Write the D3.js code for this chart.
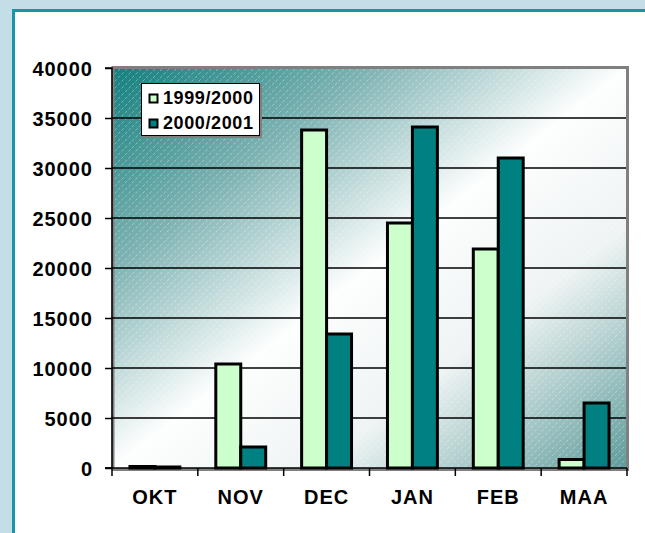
<!DOCTYPE html>
<html><head><meta charset="utf-8">
<script src="https://cdn.jsdelivr.net/npm/d3@7"></script>
<style>body{margin:0;background:#c3dee6;}svg{display:block;}</style>
</head><body>
<svg id="c" width="645" height="533"></svg>
<script>
const categories = ["OKT","NOV","DEC","JAN","FEB","MAA"];
const seriesNames = ["1999/2000","2000/2001"];
const s1999 = [150, 10400, 33800, 24500, 21900, 850];
const s2000 = [100, 2100, 13400, 34100, 31000, 6500];
const yTicks = [0,5000,10000,15000,20000,25000,30000,35000,40000];
const colors = ["#ccffcc","#008080"];

const svg = d3.select("#c");
const W=645,H=533;
const FONT="Liberation Sans, Arial, sans-serif";
svg.append("rect").attr("width",W).attr("height",H).attr("fill","#c3dee6");
svg.append("rect").attr("x",13.5).attr("y",10.5).attr("width",W).attr("height",H)
  .attr("fill","#ffffff").attr("stroke","#1696a8").attr("stroke-width",3);

const L=112,R=627,T=68,B=468;
const x = d3.scaleBand().domain(categories).range([L,R]);
const y = d3.scaleLinear().domain([0,40000]).range([B,T]);
const xs = d3.scaleBand().domain(seriesNames).range([0,x.bandwidth()]).paddingInner(0).paddingOuter(0.72);

const defs = svg.append("defs");
const g = defs.append("linearGradient").attr("id","bg").attr("x1","0").attr("y1","0").attr("x2","1").attr("y2","1");
g.append("stop").attr("offset","0").attr("stop-color","#12807e");
g.append("stop").attr("offset","0.25").attr("stop-color","#7fb3b3");
g.append("stop").attr("offset","0.5").attr("stop-color","#fdfefe");
g.append("stop").attr("offset","0.7").attr("stop-color","#eef3f3");
g.append("stop").attr("offset","1").attr("stop-color","#5e9c9b");
const p = defs.append("pattern").attr("id","hatch").attr("patternUnits","userSpaceOnUse")
  .attr("width",7).attr("height",7);
p.append("path").attr("d","M-1,8 L8,-1").attr("stroke","#ffffff").attr("stroke-opacity",0.35)
  .attr("stroke-width",1).attr("stroke-dasharray","3,2");

svg.append("rect").attr("x",L).attr("y",T).attr("width",R-L).attr("height",B-T).attr("fill","url(#bg)");
svg.append("rect").attr("x",L).attr("y",T).attr("width",R-L).attr("height",B-T).attr("fill","url(#hatch)");
svg.append("path").attr("d",`M${L+1},${B+1.5} L${L+1},${T-0.5} L${R+0.5},${T-0.5} L${R+0.5},${B+1.5} L${L},${B+1.5}`)
  .attr("fill","none").attr("stroke","#808080").attr("stroke-width",3);

svg.append("g").selectAll("line").data(yTicks.filter(d=>d>0&&d<40000)).join("line")
  .attr("x1",L).attr("x2",R-1).attr("y1",d=>y(d)).attr("y2",d=>y(d))
  .attr("stroke","#000").attr("stroke-width",1.5);

const data = categories.map((c,i)=>({c, v:[s1999[i], s2000[i]]}));
const gg = svg.append("g").selectAll("g").data(data).join("g").attr("transform",d=>`translate(${x(d.c)},0)`);
gg.selectAll("rect").data(d=>d.v.map((v,j)=>({v,j}))).join("rect")
  .attr("x",d=>xs(seriesNames[d.j])).attr("width",xs.bandwidth())
  .attr("y",d=>y(d.v)).attr("height",d=>B-y(d.v))
  .attr("fill",d=>colors[d.j]).attr("stroke","#000").attr("stroke-width",3);

const ya = d3.axisLeft(y).tickValues(yTicks).tickSize(7).tickPadding(12).tickFormat(d3.format("d"));
const yg = svg.append("g").attr("transform",`translate(${L},0)`).call(ya);
yg.select(".domain").attr("stroke","#000").attr("stroke-width",1.5).attr("d",`M-7,${T}H0V${B}H-7`);
yg.selectAll(".tick line").attr("stroke","#000").attr("stroke-width",1.5);
yg.selectAll("text").attr("font-family",FONT).attr("font-weight","bold")
  .attr("font-size","20px").attr("letter-spacing","1px").attr("fill","#000").attr("dy","0.36em");

const xb = d3.scaleLinear().domain([0,6]).range([L,R]);
const xg = svg.append("g");
xg.append("line").attr("x1",L-7).attr("x2",R).attr("y1",B).attr("y2",B).attr("stroke","#000").attr("stroke-width",1.5);
xg.selectAll("line.t").data(d3.range(7)).join("line").attr("class","t")
  .attr("x1",d=>xb(d)).attr("x2",d=>xb(d)).attr("y1",B).attr("y2",B+8).attr("stroke","#000").attr("stroke-width",1.5);
xg.selectAll("text").data(categories).join("text")
  .attr("x",d=>x(d)+x.bandwidth()/2).attr("y",504).attr("text-anchor","middle")
  .attr("font-family",FONT).attr("font-weight","bold").attr("font-size","20px").attr("letter-spacing","1px")
  .text(d=>d);

const lg = svg.append("g");
lg.append("rect").attr("x",143).attr("y",85).attr("width",118).attr("height",52)
  .attr("fill","none").attr("stroke","#808080").attr("stroke-width",2);
lg.append("rect").attr("x",141.5).attr("y",83.5).attr("width",118).attr("height",52)
  .attr("fill","#fff").attr("stroke","#000").attr("stroke-width",1);
seriesNames.forEach((n,i)=>{
  const yy = 94 + i*25;
  lg.append("rect").attr("x",149.5).attr("y",yy+0.5).attr("width",8).attr("height",8)
    .attr("fill",colors[i]).attr("stroke","#000").attr("stroke-width",2);
  lg.append("text").attr("x",163).attr("y",yy+9.5).attr("font-family",FONT)
    .attr("font-weight","bold").attr("font-size","18px").attr("letter-spacing","0.6px").text(n);
});
</script>
</body></html>
